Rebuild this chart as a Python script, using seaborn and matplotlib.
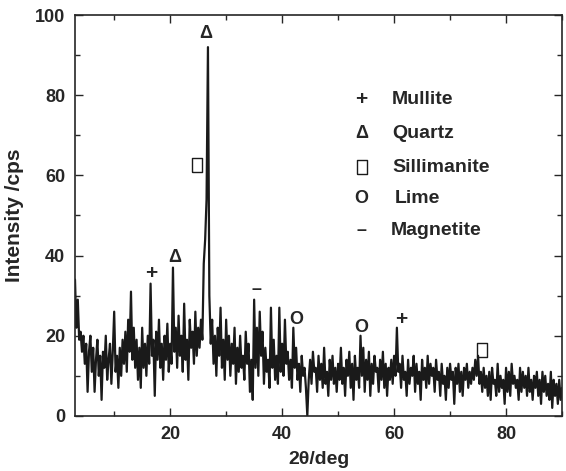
import numpy as np
import pandas as pd
import matplotlib
matplotlib.use("Agg")
import matplotlib.pyplot as plt
import seaborn as sns

# intensity, 0.25 deg steps from 3 to 90 deg
intensity = [
    34, 22, 29, 19,  21, 16, 20, 13,  18, 6, 16, 20,  11, 17, 6, 14,
    19, 10, 15, 4,   16, 12, 20, 9,   14, 18, 8, 16,  26, 11, 15, 7,
    17, 10, 19, 13,  21, 11, 24, 16,  31, 14, 22, 12,  19, 9, 17, 7,
    22, 12, 18, 10,  20, 13, 33, 15,  19, 5, 21, 14,  24, 12, 18, 9,
    20, 14, 23, 11,  18, 13, 37, 16,  22, 12, 25, 15,  20, 11, 28, 14,
    19, 9, 24, 17,   21, 13, 26, 15,  22, 17, 24, 19,  38, 44, 54, 92,
    30, 18, 24, 13,  20, 10, 22, 15,  27, 12, 19, 9,   24, 14, 20, 10,
    18, 13, 22, 8,   17, 11, 20, 12,  15, 9, 21, 13,   18, 6, 14, 4,
    29, 12, 22, 10,  26, 15, 21, 8,   17, 11, 14, 7,   27, 12, 19, 9,
    15, 8, 27, 11,   18, 10, 24, 13,  16, 9, 14, 7,    22, 12, 17, 9,
    13, 6, 15, 10,   12, 7, 0, 9,     14, 8, 16, 11,   12, 6, 15, 9,
    13, 7, 17, 8,    11, 5, 14, 9,    15, 8, 12, 6,    13, 9, 17, 8,
    12, 5, 14, 10,   16, 7, 13, 4,    15, 9, 12, 7,    20, 10, 17, 6,
    14, 9, 16, 5,    13, 8, 15, 11,   12, 6, 14, 9,    16, 7, 13, 5,
    12, 9, 14, 8,    15, 10, 22, 11,  13, 7, 15, 9,    11, 5, 14, 8,
    12, 10, 15, 6,   13, 8, 11, 4,    14, 9, 12, 7,    15, 8, 13, 10,
    12, 6, 14, 9,    11, 5, 13, 8,    10, 4, 12, 7,    13, 9, 11, 3,
    12, 8, 13, 6,    11, 5, 12, 9,    13, 7, 11, 8,    12, 9, 14, 10,
    15, 8, 11, 6,    12, 7, 10, 5,    11, 4, 12, 8,    9, 5, 13, 6,
    10, 7, 9, 3,     12, 6, 11, 5,    13, 8, 10, 7,    9, 4, 12, 6,
    11, 7, 10, 5,    12, 6, 9, 4,     10, 7, 11, 5,    9, 3, 11, 6,
    10, 5, 8, 4,     11, 2, 9, 5,     8, 3, 9, 4,      7,
]
two_theta = np.linspace(3, 90, len(intensity))

# phase markers on the peaks ("box" = open rectangle for sillimanite)
peak_symbols = ["+", "\u0394", "box", "\u0394", "\u2013", "O", "O", "+", "box"]
peak_x = [16.6, 20.9, 24.8, 26.4, 35.5, 42.6, 54.1, 61.2, 75.7]
peak_y = [35.5, 39.5, 62.5, 95.5, 31.5, 24, 22, 24, 16.5]

legend_symbols = ["+", "\u0394", "box", "O", "\u2013"]
legend_names = ["Mullite", "Quartz", "Sillimanite", "Lime", "Magnetite"]
legend_y = [79, 70.5, 62, 54.2, 46.2]
legend_text_x = [59.6, 59.6, 59.7, 60.2, 59.4]

sns.set_style("ticks")
plt.rcParams["font.family"] = ["Liberation Sans", "DejaVu Sans"]

df = pd.DataFrame({"2theta": two_theta, "I": intensity})

box_marker = [(-0.36, -0.5), (0.36, -0.5), (0.36, 0.5), (-0.36, 0.5), (-0.36, -0.5)]


def symbol_text(ax, x, y, s):
    if s == "box":
        ax.plot([x], [y], marker=box_marker, markersize=9.5, linestyle="none",
                markerfacecolor="none", markeredgecolor="#1a1a1a",
                markeredgewidth=1.0)
    else:
        size = 15 if s == "+" else 13
        ax.text(x, y, s, ha="center", va="center", fontsize=size,
                fontweight="bold")


fig = plt.figure(figsize=(5.66, 4.71), dpi=100)
ax = fig.add_axes([0.1325, 0.117, 0.8605, 0.851])
sns.lineplot(data=df, x="2theta", y="I", ax=ax, color="#1a1a1a",
             linewidth=1.6, estimator=None, sort=False)

for s, x, y in zip(peak_symbols, peak_x, peak_y):
    symbol_text(ax, x, y, s)

for s, name, y, tx in zip(legend_symbols, legend_names, legend_y, legend_text_x):
    symbol_text(ax, 54.2, y, s)
    ax.text(tx, y, name, ha="left", va="center", fontsize=14, fontweight="bold")

ax.set_xlim(3, 90)
ax.set_ylim(0, 100)
ax.set_xticks([20, 40, 60, 80])
ax.set_xticks([10, 30, 50, 70, 90], minor=True)
ax.set_yticks([0, 20, 40, 60, 80, 100])
ax.set_yticks([10, 30, 50, 70, 90], minor=True)
ax.tick_params(which="both", direction="in", top=True, right=True, width=1)
ax.tick_params(which="major", length=6, labelsize=13, pad=7)
ax.tick_params(which="minor", length=3.5)
for lab in ax.get_xticklabels() + ax.get_yticklabels():
    lab.set_fontweight("bold")
for sp in ax.spines.values():
    sp.set_linewidth(1.2)
ax.set_xlabel("2\u03b8/deg", fontsize=14, fontweight="bold", labelpad=6)
ax.set_ylabel("Intensity /cps", fontsize=15, fontweight="bold", labelpad=8)

fig.savefig("out.png", dpi=100)
